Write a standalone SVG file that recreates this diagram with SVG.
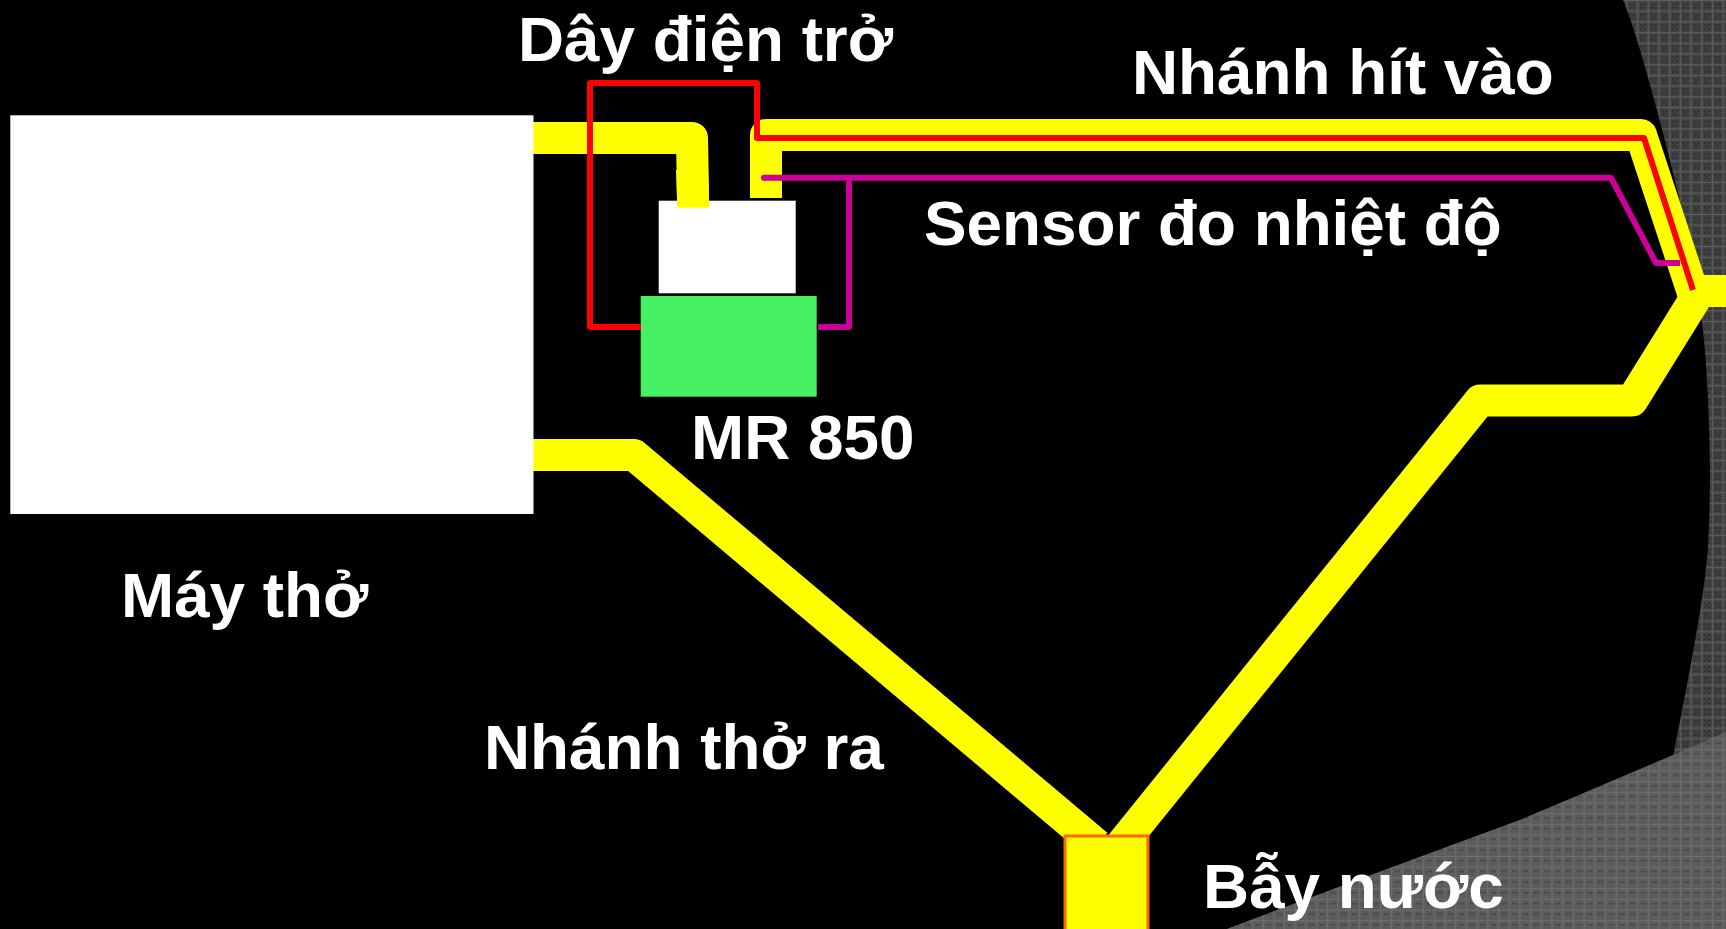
<svg xmlns="http://www.w3.org/2000/svg" width="1726" height="929" viewBox="0 0 1726 929">
<style>
.tube{fill:none;stroke:#ffff00;stroke-width:32;stroke-linejoin:round}
.red{fill:none;stroke:#ff0000;stroke-width:6;stroke-linejoin:round}
.mag{fill:none;stroke:#cc0099;stroke-width:6;stroke-linejoin:round}
.lbl{font-family:"Liberation Sans",Arial,sans-serif;font-weight:700;font-size:63.8px;fill:#ffffff}
</style>
<defs>
<pattern id="texDark" width="10.7" height="10.7" patternUnits="userSpaceOnUse">
<rect width="10.7" height="10.7" fill="#424242"/>
<rect x="0" width="1" height="10.7" fill="#5e5e5e"/>
<rect y="0" width="10.7" height="1" fill="#5e5e5e"/>
<rect x="3" y="3" width="1.5" height="1.5" fill="#222222"/>
<rect x="7" y="3" width="1.5" height="1.5" fill="#222222"/>
<rect x="3" y="7" width="1.5" height="1.5" fill="#222222"/>
<rect x="7" y="7" width="1.5" height="1.5" fill="#222222"/>
<rect x="5" y="5" width="1.5" height="1.5" fill="#2c2c2c"/>
</pattern>
<pattern id="texLight" width="10.7" height="10.7" patternUnits="userSpaceOnUse">
<rect width="10.7" height="10.7" fill="#5c5c5c"/>
<rect x="0" width="1" height="10.7" fill="#6e6e6e"/>
<rect y="0" width="10.7" height="1" fill="#6e6e6e"/>
<rect x="4" y="4" width="1.5" height="1.5" fill="#3a3a3a"/>
<rect x="7" y="4" width="1.5" height="1.5" fill="#3a3a3a"/>
</pattern>
</defs>
<g id="background">
<rect width="1726" height="929" fill="url(#texDark)"/>
<path d="M0 0H1623C1640 40 1668 150 1683 213S1705 330 1708 400S1710 500 1708 547C1704 600 1690 670 1673 757L1520 820Q1370 875 1227 929H0Z" fill="#000000"/>
<path d="M1726 732L1673 755L1520 820Q1370 875 1227 929H1726Z" fill="url(#texLight)"/>
</g>
<g id="connectors">
<path class="tube" d="M532 138H692L693 195"/>
<path class="tube" d="M766 198V135H1641L1697 305"/>
<path class="tube" d="M1690 291H1726"/>
<path class="tube" d="M1700 291L1632 400.5H1480L1121 845"/>
<path class="tube" d="M532 455H634L1097 845"/>
</g>
<g id="ventilator"><rect x="10.3" y="115.3" width="523.2" height="398.7" fill="#ffffff"/></g>
<g id="humidifier-top"><rect x="658.7" y="200.7" width="137" height="92.6" fill="#ffffff"/></g>
<g id="connectors-over">
<polygon points="676,170 677.3,207.7 709.3,207.7 708,170" fill="#ffff00"/>
</g>
<g id="mr850"><rect x="640.7" y="296" width="176" height="100.7" fill="#45f062"/></g>
<g id="water-trap"><rect x="1065" y="836" width="83" height="100" fill="#ffff00" stroke="#ff6600" stroke-width="3"/></g>
<g id="wires">
<path class="red" d="M641 327H590V83H757V138H1644L1693 290"/>
<path class="mag" d="M764 177.7H1611L1656 263H1680"/>
<circle cx="764" cy="177.7" r="3" fill="#cc0099"/>
<path class="mag" d="M849 178V327H818"/>
</g>
<g id="labels">
<text class="lbl" x="518" y="60.5">Dây điện trở</text>
<text class="lbl" x="1132" y="94">Nhánh hít vào</text>
<text class="lbl" x="924" y="245">Sensor đo nhiệt độ</text>
<text class="lbl" x="691" y="459">MR 850</text>
<text class="lbl" x="121" y="617">Máy thở</text>
<text class="lbl" x="484" y="769">Nhánh thở ra</text>
<text class="lbl" x="1203" y="908">Bẫy nước</text>
</g>
</svg>
